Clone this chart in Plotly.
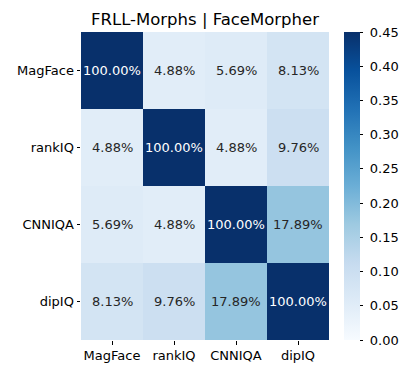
import numpy as np
import plotly.graph_objects as go

methods = ["MagFace", "rankIQ", "CNNIQA", "dipIQ"]
overlap = np.array([
    [1.0000, 0.0488, 0.0569, 0.0813],
    [0.0488, 1.0000, 0.0488, 0.0976],
    [0.0569, 0.0488, 1.0000, 0.1789],
    [0.0813, 0.0976, 0.1789, 1.0000],
])
vmin, vmax = 0.0, 0.45
cbar_ticks = [0.0, 0.05, 0.10, 0.15, 0.20, 0.25, 0.30, 0.35, 0.40, 0.45]

# matplotlib / colorbrewer Blues
blues = ["#f7fbff", "#deebf7", "#c6dbef", "#9ecae1", "#6baed6",
         "#4292c6", "#2171b5", "#08519c", "#08306b"]
colorscale = [[i / (len(blues) - 1), c] for i, c in enumerate(blues)]

font = "DejaVu Sans"

# page body has an 8px margin, so the figure is drawn 8px smaller and offset
W, H = 402, 366
L, T = 73, 24
PW, PH = 248, 308

fig = go.Figure(go.Heatmap(
    z=overlap,
    x=methods,
    y=methods,
    zmin=vmin,
    zmax=vmax,
    colorscale=colorscale,
    colorbar=dict(
        x=263 / PW,
        xanchor="left",
        xpad=0,
        ypad=0,
        thickness=16,
        thicknessmode="pixels",
        len=1,
        lenmode="fraction",
        y=0.5,
        yanchor="middle",
        outlinewidth=0,
        ticks="outside",
        ticklen=3.5,
        tickwidth=0.8,
        tickcolor="black",
        tickvals=cbar_ticks,
        ticktext=["\u00a0" + f"{t:.2f}" for t in cbar_ticks],
        tickfont=dict(family=font, size=13, color="black"),
    ),
))

# cell labels, light on dark cells like seaborn
for i, row_name in enumerate(methods):
    for j, col_name in enumerate(methods):
        v = overlap[i, j]
        frac = min(max((v - vmin) / (vmax - vmin), 0), 1)
        color = "white" if frac > 0.6 else "#262626"
        fig.add_annotation(
            x=col_name, y=row_name, text=f"{v * 100:.2f}%",
            showarrow=False,
            font=dict(family=font, size=13, color=color),
        )

fig.update_layout(
    width=W,
    height=H,
    margin=dict(l=L, r=W - L - PW, t=T, b=H - T - PH, autoexpand=False),
    paper_bgcolor="white",
    plot_bgcolor="white",
    title=dict(
        text="FRLL-Morphs | FaceMorpher",
        x=(L + PW / 2) / W,
        xanchor="center",
        xref="container",
        y=1 - 11 / H,
        yref="container",
        yanchor="middle",
        font=dict(family=font, size=16.5, color="black"),
    ),
    xaxis=dict(
        ticks="outside", ticklen=3.5, tickwidth=0.8, tickcolor="black",
        tickfont=dict(family=font, size=13, color="black"),
        showgrid=False, zeroline=False, showline=False,
    ),
    yaxis=dict(
        autorange="reversed",
        ticks="outside", ticklen=3.5, tickwidth=0.8, tickcolor="black",
        tickfont=dict(family=font, size=13, color="black"),
        showgrid=False, zeroline=False, showline=False,
    ),
)

fig.write_html("out.html")
